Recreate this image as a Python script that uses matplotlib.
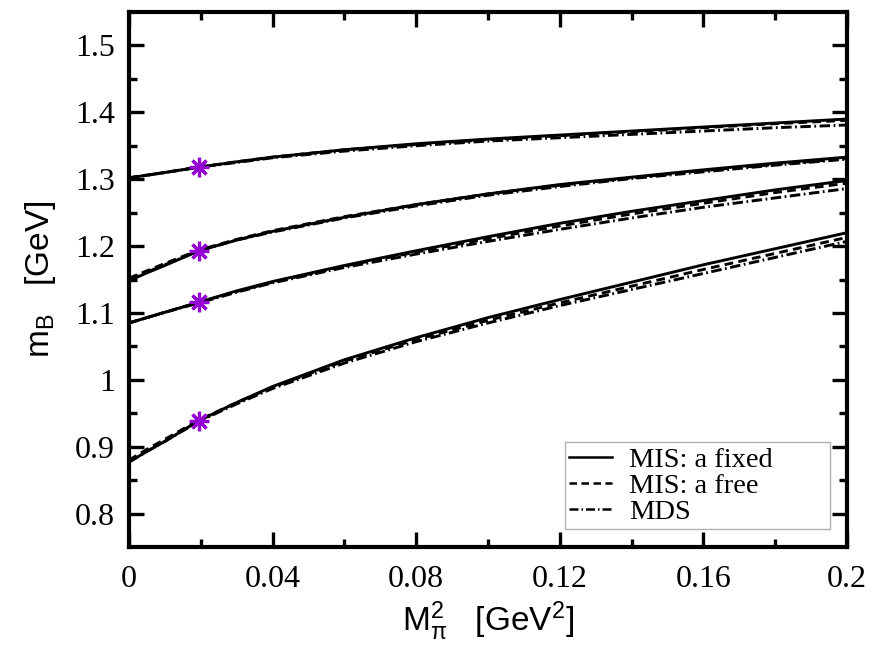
import matplotlib
matplotlib.use("Agg")
import matplotlib.pyplot as plt

# === Data ===
# pion mass squared [GeV^2]
m_pi2 = [0.0, 0.005, 0.01, 0.0195, 0.03, 0.04, 0.06, 0.08, 0.10, 0.12, 0.14, 0.16, 0.18, 0.20]

# baryon masses [GeV], three extrapolations each
N_fixed = [0.877, 0.893, 0.908, 0.939, 0.966, 0.990, 1.030, 1.063, 1.093, 1.120, 1.146, 1.172, 1.196, 1.220]
N_free = [0.880, 0.896, 0.911, 0.940, 0.966, 0.989, 1.028, 1.060, 1.089, 1.115, 1.140, 1.165, 1.189, 1.213]
N_mds = [0.877, 0.893, 0.908, 0.938, 0.964, 0.987, 1.025, 1.057, 1.085, 1.111, 1.135, 1.159, 1.183, 1.207]

L_fixed = [1.085, 1.093, 1.101, 1.116, 1.133, 1.147, 1.171, 1.193, 1.214, 1.234, 1.252, 1.268, 1.284, 1.298]
L_free = [1.085, 1.093, 1.101, 1.116, 1.132, 1.146, 1.170, 1.191, 1.211, 1.230, 1.248, 1.264, 1.280, 1.294]
L_mds = [1.085, 1.093, 1.101, 1.115, 1.131, 1.145, 1.168, 1.188, 1.207, 1.225, 1.242, 1.258, 1.272, 1.286]

S_fixed = [1.148, 1.160, 1.171, 1.193, 1.209, 1.222, 1.243, 1.262, 1.278, 1.292, 1.303, 1.314, 1.324, 1.333]
S_free = [1.152, 1.163, 1.174, 1.194, 1.210, 1.223, 1.244, 1.262, 1.278, 1.291, 1.302, 1.313, 1.322, 1.331]
S_mds = [1.150, 1.161, 1.172, 1.193, 1.209, 1.221, 1.242, 1.260, 1.276, 1.289, 1.301, 1.311, 1.321, 1.330]

X_fixed = [1.302, 1.306, 1.310, 1.318, 1.326, 1.333, 1.344, 1.353, 1.360, 1.366, 1.372, 1.378, 1.384, 1.390]
X_free = [1.302, 1.306, 1.310, 1.318, 1.326, 1.333, 1.344, 1.352, 1.359, 1.365, 1.371, 1.377, 1.383, 1.388]
X_mds = [1.302, 1.306, 1.310, 1.318, 1.325, 1.332, 1.342, 1.350, 1.357, 1.362, 1.367, 1.372, 1.377, 1.381]

# physical points
phys_m_pi2 = [0.0195, 0.0195, 0.0195, 0.0195]
phys_mass = [0.939, 1.116, 1.193, 1.318]

# === Style ===
plt.rcParams["mathtext.fontset"] = "custom"
plt.rcParams["mathtext.rm"] = "Liberation Sans"
plt.rcParams["mathtext.it"] = "Liberation Sans:italic"
plt.rcParams["mathtext.sf"] = "Liberation Sans"

LW = 2.1
DASHED = (0, (3.0, 1.8))
DASHDOT = (0, (3.6, 1.2, 0.6, 1.2))

fig = plt.figure(figsize=(8.75, 6.52), dpi=100)
ax = fig.add_axes([129 / 875, 1 - 547 / 652, 718 / 875, 535 / 652])

for i, (fixed, free, mds) in enumerate([(N_fixed, N_free, N_mds),
                                        (L_fixed, L_free, L_mds),
                                        (S_fixed, S_free, S_mds),
                                        (X_fixed, X_free, X_mds)]):
    ax.plot(m_pi2, mds, color="black", lw=LW, ls=DASHDOT,
            label="MDS" if i == 0 else None)
    ax.plot(m_pi2, free, color="black", lw=LW, ls=DASHED,
            label="MIS: a free" if i == 0 else None)
    ax.plot(m_pi2, fixed, color="black", lw=LW, ls="-",
            label="MIS: a fixed" if i == 0 else None)

ax.plot(phys_m_pi2, phys_mass, ls="none", marker=(8, 2, 0), ms=14,
        mew=2.3, color="#9400d3", zorder=5)

ax.set_xlim(0, 0.2)
ax.set_ylim(0.75, 1.55)
ax.set_xticks([0, 0.04, 0.08, 0.12, 0.16, 0.2])
ax.set_xticklabels(["0", "0.04", "0.08", "0.12", "0.16", "0.2"])
ax.set_xticks([0.02, 0.06, 0.10, 0.14, 0.18], minor=True)
ax.set_yticks([0.8, 0.9, 1.0, 1.1, 1.2, 1.3, 1.4, 1.5])
ax.set_yticklabels(["0.8", "0.9", "1", "1.1", "1.2", "1.3", "1.4", "1.5"])
ax.set_yticks([0.85, 0.95, 1.05, 1.15, 1.25, 1.35, 1.45], minor=True)

for s in ax.spines.values():
    s.set_linewidth(3)
ax.tick_params(which="both", direction="in", top=True, right=True, width=2.4)
ax.tick_params(which="major", length=11, pad=10)
ax.tick_params(which="minor", length=5.5)
for lab in ax.get_xticklabels() + ax.get_yticklabels():
    lab.set_family("Liberation Serif")
    lab.set_fontsize(23)
ax.tick_params(axis="x", pad=13)

ax.set_xlabel(r"M$_{\mathrm{π}}^{2}$   [GeV$^{2}$]", family="Liberation Sans",
              fontsize=24, labelpad=4)
ax.set_ylabel(r"m$_{\mathrm{B}}$   [GeV]", family="Liberation Sans",
              fontsize=24, labelpad=12)

handles, labels = ax.get_legend_handles_labels()
order = [2, 1, 0]
leg = ax.legend([handles[k] for k in order], [labels[k] for k in order],
                loc="lower left", bbox_to_anchor=(0.607, 0.034, 0.369, 0.15),
                mode="expand", borderaxespad=0, fancybox=False, framealpha=1,
                edgecolor="#b0b0b0", handlelength=1.5, handletextpad=0.6,
                labelspacing=0.0, borderpad=0.15,
                prop={"family": "Liberation Serif", "size": 20.5})
leg.get_frame().set_linewidth(1.0)
for ln in leg.get_lines():
    ln.set_linewidth(1.8)

fig.savefig("out.png", dpi=100)
